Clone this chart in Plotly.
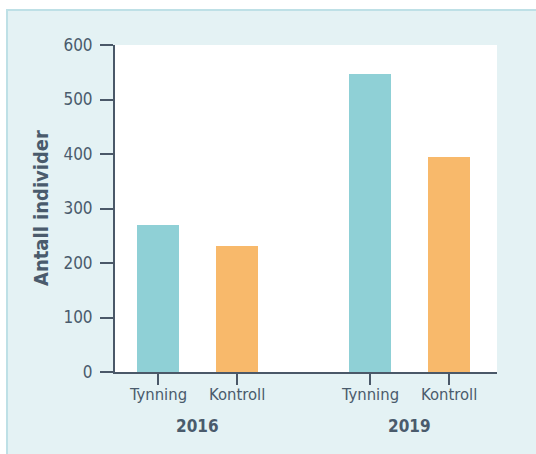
import plotly.graph_objects as go

# ---- data ----
years = ["2016", "2019"]
categories = ["Tynning", "Kontroll"]
tynning = [269, 546]
kontroll = [231, 394]
y_ticks = [0, 100, 200, 300, 400, 500, 600]

# ---- layout geometry (pixels) ----
W, H = 536, 454
L, R, T, B = 115, 39, 45, 82
pw, ph = W - L - R, H - T - B
group_step = 2.684
x_range = [-0.544, 4.291]

text_col = "#4A5B6C"
axis_col = "#4A5868"
teal = "#8FD0D6"
orange = "#F8B96B"
box_bg = "#E4F2F4"
box_border = "#BEE0E6"
font_family = "DejaVu Sans Condensed, Liberation Sans Narrow, sans-serif"

series = [("Tynning", tynning, teal), ("Kontroll", kontroll, orange)]


def px_x(px):
    return (px - L) / pw


def px_y(py):
    return (H - B - py) / ph


fig = go.Figure()
tickvals = []
annotations = []
for ci, (name, vals, col) in enumerate(series):
    xs = [gi * group_step + ci for gi in range(len(years))]
    fig.add_trace(go.Bar(x=xs, y=vals, name=name, marker=dict(color=col, line=dict(width=0)),
                         width=0.532, showlegend=False, hoverinfo="y"))

for gi, yr in enumerate(years):
    for ci, c in enumerate(categories):
        xv = gi * group_step + ci
        tickvals.append(xv)
        annotations.append(dict(text=c, xref="x", yref="paper", x=xv, y=px_y(394),
                                showarrow=False, xanchor="center", yanchor="middle",
                                font=dict(family=font_family, size=16.5, color=text_col)))
    cx = gi * group_step + (len(categories) - 1) / 2
    annotations.append(dict(text="<b>" + yr + "</b>", xref="x", yref="paper", x=cx, y=px_y(425.5),
                            showarrow=False, xanchor="center", yanchor="middle",
                            font=dict(family=font_family, size=17, color=text_col)))

annotations.append(dict(text="<b>Antall individer</b>", xref="paper", yref="paper", x=px_x(41), y=px_y(208),
                        textangle=-90, showarrow=False, xanchor="center", yanchor="middle",
                        font=dict(family=font_family, size=20, color=text_col)))

shapes = [
    # light box (its right/bottom edges lie outside the page)
    dict(type="rect", xref="paper", yref="paper", x0=px_x(7), x1=px_x(W + 20), y0=px_y(H + 20), y1=px_y(10),
         fillcolor=box_bg, line=dict(width=0), layer="below"),
    # box borders: top and left
    dict(type="line", xref="paper", yref="paper", x0=px_x(6), x1=px_x(W + 20), y0=px_y(10), y1=px_y(10),
         line=dict(color=box_border, width=2), layer="below"),
    dict(type="line", xref="paper", yref="paper", x0=px_x(7), x1=px_x(7), y0=px_y(9), y1=px_y(H + 20),
         line=dict(color=box_border, width=2), layer="below"),
    # white plotting area
    dict(type="rect", xref="paper", yref="paper", x0=0, x1=1, y0=0, y1=1,
         fillcolor="white", line=dict(width=0), layer="below"),
]

fig.update_layout(
    width=W, height=H,
    margin=dict(l=L, r=R, t=T, b=B, pad=0),
    paper_bgcolor="white",
    plot_bgcolor="white",
    bargap=0,
    shapes=shapes,
    annotations=annotations,
    font=dict(family=font_family, color=text_col),
    xaxis=dict(range=x_range, tickmode="array", tickvals=tickvals, showticklabels=False,
               ticks="outside", ticklen=11, tickwidth=1.5, tickcolor=axis_col,
               showline=True, linecolor=axis_col, linewidth=2, showgrid=False, zeroline=False,
               fixedrange=True),
    yaxis=dict(range=[0, 600], tickmode="array", tickvals=y_ticks,
               ticks="outside", ticklen=13, tickwidth=1.5, tickcolor=axis_col,
               ticklabelstandoff=4,
               showline=True, linecolor=axis_col, linewidth=2, showgrid=False, zeroline=False,
               tickfont=dict(family=font_family, size=17, color=text_col), fixedrange=True),
)

fig.write_html("out.html", include_plotlyjs=True, config={"displayModeBar": False},
               post_script="document.body.style.margin='0';document.body.style.overflow='hidden';")
